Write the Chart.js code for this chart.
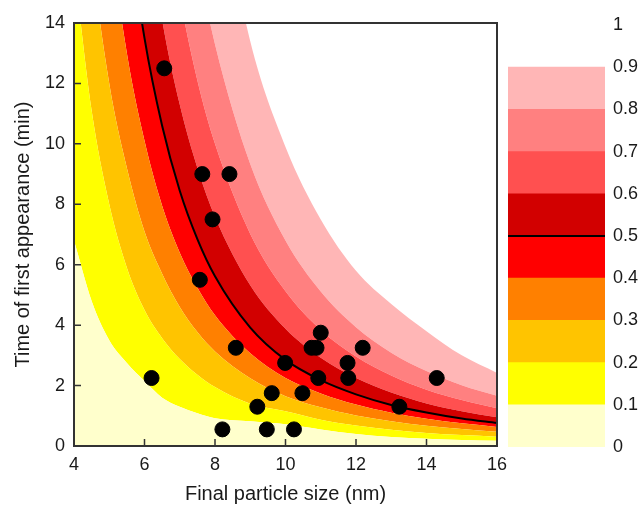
<!DOCTYPE html>
<html>
<head>
<meta charset="utf-8">
<script src="https://cdn.jsdelivr.net/npm/chart.js@4"></script>
<style>
  body { margin: 0; background: #fff; }
  #wrap { position: relative; width: 640px; height: 506px; }
  #main { position: absolute; left: 0; top: 0; }
  #bar { position: absolute; left: 500px; top: 0; }
</style>
</head>
<body>
<div id="wrap">
  <canvas id="main" width="640" height="506"></canvas>
  <canvas id="bar" width="140" height="506"></canvas>
</div>
<script>
const xGrid = [4, 4.5, 5, 5.5, 6, 6.5, 7, 7.5, 8, 9, 10, 11, 12, 13, 14, 15, 16];
// time (min) of each contour boundary at xGrid
const level10 = [6.8, 4.8, 3.5, 2.75, 2.15, 1.6, 1.3, 1.08, 0.92, 0.82, 0.72, 0.55, 0.4, 0.3, 0.24, 0.2, 0.17];
const level20 = [15.9, 11.1, 8.0, 5.9, 4.5, 3.57, 2.88, 2.36, 1.95, 1.4, 1.15, 0.87, 0.68, 0.54, 0.43, 0.36, 0.31];
const level30 = [22.7, 16.3, 12.0, 9.2, 7.1, 5.7, 4.6, 3.77, 3.13, 2.24, 1.65, 1.28, 1.01, 0.82, 0.67, 0.56, 0.47];
const level40 = [33, 23.4, 17.2, 13.0, 10.1, 7.95, 6.4, 5.24, 4.33, 3.07, 2.25, 1.74, 1.37, 1.1, 0.9, 0.75, 0.63];
const level50 = [46.5, 32.5, 23.6, 17.6, 13.5, 10.6, 8.45, 6.85, 5.62, 3.92, 2.85, 2.18, 1.71, 1.36, 1.11, 0.91, 0.76];
const level60 = [60.6, 42.6, 31.0, 23.3, 18.0, 14.1, 11.3, 9.2, 7.58, 5.32, 3.88, 2.92, 2.25, 1.77, 1.41, 1.15, 0.95];
const level70 = [80, 56.2, 40.9, 30.8, 23.7, 18.6, 14.9, 12.1, 10.0, 7.02, 5.12, 3.84, 2.96, 2.33, 1.86, 1.52, 1.25];
const level80 = [106, 74.6, 54.4, 40.9, 31.5, 24.8, 19.8, 16.1, 13.3, 9.33, 6.8, 5.11, 3.93, 3.09, 2.48, 2.01, 1.66];
const level90 = [155, 109, 79, 59.5, 45.8, 36, 28.9, 23.5, 19.3, 13.4, 9.9, 7.5, 5.8, 4.7, 3.8, 3.0, 2.42];
const levels = [level10, level20, level30, level40, level50, level60, level70, level80, level90];

// measured points
const dotX = [6.56, 7.64, 8.41, 7.93, 7.57, 8.59, 6.2, 9.99, 10.74, 10.88, 11.0, 11.76, 12.19, 11.78, 10.93, 10.48, 9.61, 9.2, 8.21, 9.47, 10.24, 13.23, 14.29];
const dotY = [12.5, 9.0, 9.0, 7.5, 5.5, 3.25, 2.25, 2.75, 3.25, 3.25, 3.75, 2.75, 3.25, 2.25, 2.25, 1.75, 1.75, 1.3, 0.55, 0.55, 0.55, 1.3, 2.25];

// colour bar steps
const barSteps = [0.1, 0.1, 0.1, 0.1, 0.1, 0.1, 0.1, 0.1, 0.1];
const barLine = 0.5;

const bandColors = ['#FFFFCC', '#FFFF00', '#FFC400', '#FF8000', '#FF0000', '#D20000', '#FF5050', '#FF8080', '#FFB6B6'];
const font = { family: 'Liberation Sans, Arial, sans-serif', size: 18 };
const titleFont = { family: 'Liberation Sans, Arial, sans-serif', size: 20 };
const textColor = '#1a1a1a';

const datasets = levels.map(function(lv, i) {
    return {
        data: xGrid.map(function(x, j) { return { x: x, y: lv[j] }; }),
        borderColor: 'rgba(0,0,0,0)',
        borderWidth: 0,
        pointRadius: 0,
        backgroundColor: bandColors[i],
        fill: i === 0 ? 'origin' : '-1',
        cubicInterpolationMode: 'monotone',
        order: 3
    };
});
// the 0.5 contour as black line
datasets.push({
    data: xGrid.map(function(x, j) { return { x: x, y: level50[j] }; }),
    borderColor: '#000',
    borderWidth: 2,
    pointRadius: 0,
    fill: false,
    cubicInterpolationMode: 'monotone',
    order: 2
});
datasets.push({
    type: 'scatter',
    data: dotX.map(function(x, j) { return { x: x, y: dotY[j] }; }),
    backgroundColor: '#000',
    borderColor: '#000',
    pointRadius: 7.5,
    showLine: false,
    order: 1
});

// frame and inward ticks
const framePlugin = {
    id: 'frame',
    afterDatasetsDraw(chart) {
        const ctx = chart.ctx, a = chart.chartArea;
        ctx.save();
        ctx.strokeStyle = '#333';
        ctx.lineWidth = 1.5;
        ctx.beginPath();
        chart.scales.x.ticks.forEach(function(t) {
            const px = chart.scales.x.getPixelForValue(t.value);
            ctx.moveTo(px, a.bottom);
            ctx.lineTo(px, a.bottom - 7);
        });
        chart.scales.y.ticks.forEach(function(t) {
            const py = chart.scales.y.getPixelForValue(t.value);
            ctx.moveTo(a.left, py);
            ctx.lineTo(a.left + 7, py);
        });
        ctx.stroke();
        ctx.lineWidth = 2;
        ctx.strokeRect(a.left, a.top, a.right - a.left, a.bottom - a.top);
        ctx.restore();
    }
};

new Chart(document.getElementById('main'), {
    type: 'line',
    data: { datasets: datasets },
    options: {
        responsive: false,
        animation: false,
        layout: { padding: { top: 23, right: 143, left: 0, bottom: 0 } },
        plugins: { legend: { display: false }, tooltip: { enabled: false } },
        scales: {
            x: {
                type: 'linear', min: 4, max: 16,
                ticks: { stepSize: 2, padding: 8, color: textColor, font: font },
                grid: { display: false, drawTicks: false },
                border: { display: false },
                title: { display: true, text: 'Final particle size (nm)', color: textColor, font: titleFont, padding: { top: 0, bottom: 0 } },
                afterFit: function(s) { s.height = 60; }
            },
            y: {
                min: 0, max: 14,
                ticks: { stepSize: 2, padding: 9, color: textColor, font: font },
                grid: { display: false, drawTicks: false },
                border: { display: false },
                title: { display: true, text: 'Time of first appearance (min)', color: textColor, font: titleFont, padding: { top: 11, bottom: 0 } },
                afterFit: function(s) { s.width = 74; }
            }
        }
    },
    plugins: [framePlugin]
});

// colour bar
const barLinePlugin = {
    id: 'barLine',
    afterDatasetsDraw(chart) {
        const ctx = chart.ctx, a = chart.chartArea;
        const py = chart.scales.y.getPixelForValue(barLine);
        ctx.save();
        ctx.strokeStyle = '#000';
        ctx.lineWidth = 2;
        ctx.beginPath();
        ctx.moveTo(a.left, py);
        ctx.lineTo(a.right, py);
        ctx.stroke();
        ctx.restore();
    }
};

new Chart(document.getElementById('bar'), {
    type: 'bar',
    data: {
        labels: [''],
        datasets: barSteps.map(function(v, i) {
            return { data: [v], backgroundColor: bandColors[i], borderWidth: 0, barPercentage: 1, categoryPercentage: 1 };
        })
    },
    options: {
        responsive: false,
        animation: false,
        layout: { padding: { top: 25, left: 8, right: 0, bottom: 59 } },
        plugins: { legend: { display: false }, tooltip: { enabled: false } },
        scales: {
            x: { display: false, stacked: true },
            y: {
                stacked: true, position: 'right', min: 0, max: 1,
                ticks: {
                    stepSize: 0.1, padding: 8, color: textColor, font: font,
                    callback: function(v) { return Math.round(v * 10) / 10; }
                },
                grid: { display: false, drawTicks: false },
                border: { display: false },
                afterFit: function(s) { s.width = 35; }
            }
        }
    },
    plugins: [barLinePlugin]
});
</script>
</body>
</html>
